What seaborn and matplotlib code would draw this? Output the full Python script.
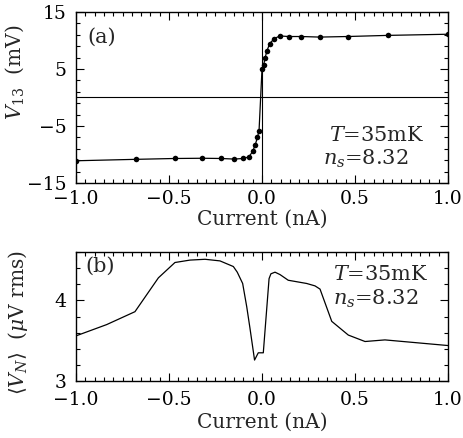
import numpy as np
import pandas as pd
import matplotlib
matplotlib.use("Agg")
import matplotlib.pyplot as plt
from matplotlib.ticker import FixedLocator, MultipleLocator
import seaborn as sns

# Panel (a): V13 vs current
cur_a = [-1.0, -0.68, -0.47, -0.32, -0.22, -0.15, -0.10, -0.07, -0.05, -0.036, -0.025, -0.016,
         0.0, 0.009, 0.016, 0.027, 0.041, 0.065, 0.095, 0.143, 0.21, 0.31, 0.46, 0.68, 1.0]
v13 = [-11.1, -10.85, -10.7, -10.66, -10.7, -10.8, -10.7, -10.4, -9.45, -8.3, -7.0, -5.9,
       4.95, 5.7, 6.9, 8.2, 9.45, 10.3, 10.8, 10.7, 10.7, 10.6, 10.7, 10.9, 11.1]

# Panel (b): noise voltage vs current
cur_b = [-1.0, -0.835, -0.683, -0.557, -0.468, -0.387, -0.306, -0.226, -0.154, -0.133, -0.104,
         -0.082, -0.065, -0.04, -0.02, 0.007, 0.038, 0.048, 0.07, 0.097, 0.141, 0.24, 0.285,
         0.312, 0.375, 0.464, 0.554, 0.661, 1.0]
vn = [3.56, 3.70, 3.86, 4.28, 4.47, 4.50, 4.51, 4.49, 4.42, 4.35, 4.21,
      3.92, 3.66, 3.26, 3.35, 3.35, 4.27, 4.33, 4.35, 4.32, 4.25, 4.21, 4.18,
      4.14, 3.74, 3.57, 3.49, 3.51, 3.44]

xticks = [-1.0, -0.5, 0.0, 0.5, 1.0]
xticklabels = ["\u22121.0", "\u22120.5", "0.0", "0.5", "1.0"]

sns.set_style("ticks")
plt.rcParams["font.family"] = ["DejaVu Serif"]
plt.rcParams["mathtext.fontset"] = "dejavuserif"

fig = plt.figure(figsize=(4.64, 4.38), dpi=100)
ax1 = fig.add_axes([0.1638, 0.5822, 0.8017, 0.3904])
ax2 = fig.add_axes([0.1638, 0.1301, 0.8017, 0.2945])

df_a = pd.DataFrame({"I": cur_a, "V": v13})
df_b = pd.DataFrame({"I": cur_b, "V": vn})

sns.lineplot(data=df_a, x="I", y="V", ax=ax1, color="black", lw=0.9,
             marker="o", markersize=4, markeredgewidth=0, sort=False)
sns.lineplot(data=df_b, x="I", y="V", ax=ax2, color="black", lw=0.9, sort=False)

ax1.axhline(0, color="black", lw=0.8)
ax1.axvline(0, color="black", lw=0.8)

fs = 13.5
lfs = 14.5
afs = 15
for ax in (ax1, ax2):
    ax.set_xlim(-1.0, 1.0)
    ax.xaxis.set_major_locator(FixedLocator(xticks))
    ax.set_xticklabels(xticklabels, fontsize=fs)
    ax.xaxis.set_minor_locator(MultipleLocator(0.05))
    ax.tick_params(which="both", direction="in", top=True, right=True, width=0.8,
                   colors="black")
    ax.tick_params(axis="y", which="both", pad=7)
    ax.tick_params(which="major", length=6)
    ax.tick_params(which="minor", length=3)
    for s in ax.spines.values():
        s.set_linewidth(1.0)
        s.set_color("black")
    ax.set_xlabel("Current (nA)", fontsize=lfs)

ax1.tick_params(axis="x", which="both", pad=5)
ax2.tick_params(axis="x", which="both", pad=7.5)

ax1.set_ylim(-15, 15)
ax1.yaxis.set_major_locator(FixedLocator([-15, -5, 5, 15]))
ax1.set_yticklabels(["\u221215", "\u22125", "5", "15"], fontsize=fs)
ax1.yaxis.set_minor_locator(FixedLocator(np.arange(-15, 16, 2)))
ax1.set_ylabel(r"$V_{13}$  (mV)", fontsize=lfs)
ax1.yaxis.set_label_coords(-0.135, 0.65)
ax1.xaxis.set_label_coords(0.5, -0.155)

ax2.set_ylim(3, 4.6)
ax2.yaxis.set_major_locator(FixedLocator([3, 4]))
ax2.set_yticklabels(["3", "4"], fontsize=fs)
ax2.yaxis.set_minor_locator(MultipleLocator(0.2))
ax2.set_ylabel(r"$\langle V_N\rangle$  ($\mu$V rms)", fontsize=lfs)
ax2.yaxis.set_label_coords(-0.125, 0.45)
ax2.xaxis.set_label_coords(0.5, -0.25)

ax1.text(-0.94, 10.6, "(a)", fontsize=afs, va="center", ha="left")
ax1.text(0.36, -6.6, r"$T$=35mK", fontsize=afs, va="center", ha="left")
ax1.text(0.33, -10.8, r"$n_s$=8.32", fontsize=afs, va="center", ha="left")

ax2.text(-0.95, 4.42, "(b)", fontsize=afs, va="center", ha="left")
ax2.text(0.38, 4.32, r"$T$=35mK", fontsize=afs, va="center", ha="left")
ax2.text(0.38, 4.02, r"$n_s$=8.32", fontsize=afs, va="center", ha="left")

fig.savefig("out.png", dpi=100)
